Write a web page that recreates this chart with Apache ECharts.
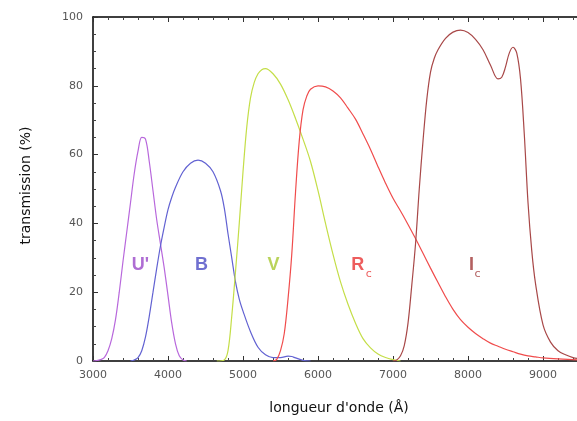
<!DOCTYPE html>
<html><head><meta charset="utf-8">
<script src="https://cdn.jsdelivr.net/npm/echarts@6/dist/echarts.min.js"></script>
<style>html,body{margin:0;padding:0;background:#fff}#c{width:577px;height:421px}</style>
</head><body><div id="c"></div>
<script>
// Filter transmission curves: [wavelength (Å), transmission (%)]
const uPrime = [[3000,0],[3050,0.1],[3100,0.4],[3150,1],[3200,3],[3250,6.5],[3300,12],[3350,20],[3400,29],[3450,37.5],[3500,46],[3550,54.5],[3600,61],[3650,65],[3700,64.5],[3750,58],[3800,49.5],[3850,41],[3900,34],[3950,27],[4000,19],[4050,11],[4100,5],[4150,1.5],[4200,0.3],[4250,0]];
const bBand = [[3500,0],[3550,0.3],[3600,1],[3650,3],[3700,7],[3750,13],[3800,20],[3850,27],[3900,33.5],[3950,39],[4000,44],[4050,47.6],[4100,50.5],[4200,55],[4300,57.5],[4400,58.4],[4500,57.5],[4600,55],[4700,49.5],[4750,44.5],[4800,37],[4850,30],[4900,23],[4950,18],[5000,14.5],[5100,8.5],[5200,4],[5300,1.8],[5400,1],[5500,1],[5600,1.4],[5650,1.3],[5700,0.9],[5800,0.2],[5900,0]];
const vBand = [[4650,0],[4750,0.3],[4800,3],[4850,13],[4900,26],[4950,40],[5000,55],[5050,68],[5100,76.5],[5150,81],[5200,83.5],[5250,84.7],[5300,85],[5400,83.5],[5500,80.5],[5600,76],[5700,70.5],[5800,64.5],[5900,58],[6000,49.5],[6100,40],[6200,31],[6300,23],[6400,16.5],[6500,11],[6600,6.5],[6700,3.8],[6800,2],[6900,1],[7000,0.4],[7100,0]];
const rcBand = [[5400,0],[5450,0.5],[5500,3],[5550,8],[5600,18],[5650,31],[5700,49],[5750,64],[5800,73],[5850,77],[5900,79],[6000,80],[6100,79.7],[6200,78.5],[6300,76.5],[6400,73.5],[6500,70.3],[6600,66],[6700,61.5],[6800,56.5],[6900,51.7],[7000,47.3],[7100,43.6],[7200,39.7],[7300,35.6],[7400,31.3],[7500,27],[7600,22.8],[7700,18.7],[7800,15],[7900,12],[8000,9.8],[8100,8],[8200,6.5],[8300,5.2],[8400,4.3],[8500,3.4],[8600,2.7],[8700,2],[8800,1.5],[8900,1.2],[9000,0.9],[9200,0.6],[9500,0.3],[10000,0]];
const icBand = [[7000,0],[7050,0.3],[7100,1.5],[7150,4.5],[7200,11],[7250,22],[7300,34],[7350,50],[7400,64],[7450,76],[7500,84],[7550,88],[7600,90.5],[7700,93.8],[7800,95.6],[7900,96.2],[8000,95.5],[8100,93.5],[8200,90.5],[8300,86],[8400,82],[8450,82.5],[8500,85.5],[8550,89.5],[8600,91.2],[8650,89.5],[8700,82],[8750,66],[8800,46],[8850,32],[8900,22.5],[9000,10.5],[9100,5.5],[9200,3],[9300,1.8],[9400,1],[9500,0.6],[9700,0.2],[10000,0]];
const bandNames = ['U\'', 'B', 'V', 'R', 'I'];
const bandSubs = ['', '', '', 'c', 'c'];
const labelAt = [[3633,28],[4447,28],[5407,28],[6530,28],[8047,28]];
const subOffset = [[0,0],[0,0],[0,0],[11,9],[6,9]];
const lineColors = ['#b868dc', '#6262d2', '#c4de48', '#f04c4c', '#a84848'];
const labelColors = ['#9a48c8', '#4c4cc4', '#a8c832', '#e83434', '#a03838'];
const xTitle = 'longueur d\'onde (Å)';
const yTitle = 'transmission (%)';

const chart = echarts.init(document.getElementById('c'), null, {renderer: 'canvas'});
const font = 'DejaVu Sans, Verdana, sans-serif';
const labFont = 'Liberation Sans, Arial, sans-serif';
const mkLine = (name, data, color) => ({
  name, type: 'line', data, showSymbol: false, symbol: 'none',
  smooth: 0.35,
  lineStyle: {color, width: 1.2}, z: 3, animation: false
});
const labelPts = [];
labelAt.forEach((p, i) => {
  labelPts.push({value: p, label: {show: true, position: 'inside', formatter: bandNames[i],
    fontSize: 18, fontWeight: 'bold', fontFamily: labFont, color: labelColors[i]}});
  if (bandSubs[i]) {
    labelPts.push({value: p, label: {show: true, position: 'inside', offset: subOffset[i], formatter: bandSubs[i],
      fontSize: 11, fontFamily: font, color: labelColors[i]}});
  }
});
const series = [
  mkLine('U\'', uPrime, lineColors[0]),
  mkLine('B', bBand, lineColors[1]),
  mkLine('V', vBand, lineColors[2]),
  mkLine('Rc', rcBand, lineColors[3]),
  mkLine('Ic', icBand, lineColors[4]),
  {type: 'scatter', symbolSize: 0, animation: false, z: 5, silent: true, data: labelPts}
];
const axisCommon = {
  type: 'value', min: 3000, max: 9453, interval: 1000,
  axisLine: {show: true, onZero: false, lineStyle: {color: '#000', width: 1.5}},
  axisTick: {show: true, inside: true, length: 5, lineStyle: {color: '#333'}},
  minorTick: {show: true, splitNumber: 5, length: 3, lineStyle: {color: '#444'}},
  splitLine: {show: false}
};
chart.setOption({
  backgroundColor: '#fff',
  animation: false,
  grid: {left: 93, top: 17, right: 0, bottom: 60},
  xAxis: [
    Object.assign({}, axisCommon, {
      position: 'bottom',
      name: xTitle, nameLocation: 'middle', nameGap: 40,
      nameTextStyle: {fontSize: 14, fontFamily: font, color: '#111', padding: [0, 0, 0, 8]},
      axisLabel: {fontSize: 11, fontFamily: font, color: '#555', margin: 9, showMaxLabel: false, formatter: v => String(v)}
    }),
    Object.assign({}, axisCommon, {position: 'top', axisLabel: {show: false}})
  ],
  yAxis: {
    type: 'value', min: 0, max: 100, interval: 20,
    name: yTitle, nameLocation: 'middle', nameGap: 60, nameRotate: 90,
    nameTextStyle: {fontSize: 14, fontFamily: font, color: '#111', padding: [0, 0, 0, 7]},
    axisLine: {show: true, lineStyle: {color: '#000', width: 1.5}},
    axisTick: {show: true, inside: true, length: 5, lineStyle: {color: '#333'}},
    minorTick: {show: true, splitNumber: 4, length: 3, lineStyle: {color: '#444'}},
    splitLine: {show: false},
    axisLabel: {fontSize: 11, fontFamily: font, color: '#555', margin: 10}
  },
  series
});
</script></body></html>
